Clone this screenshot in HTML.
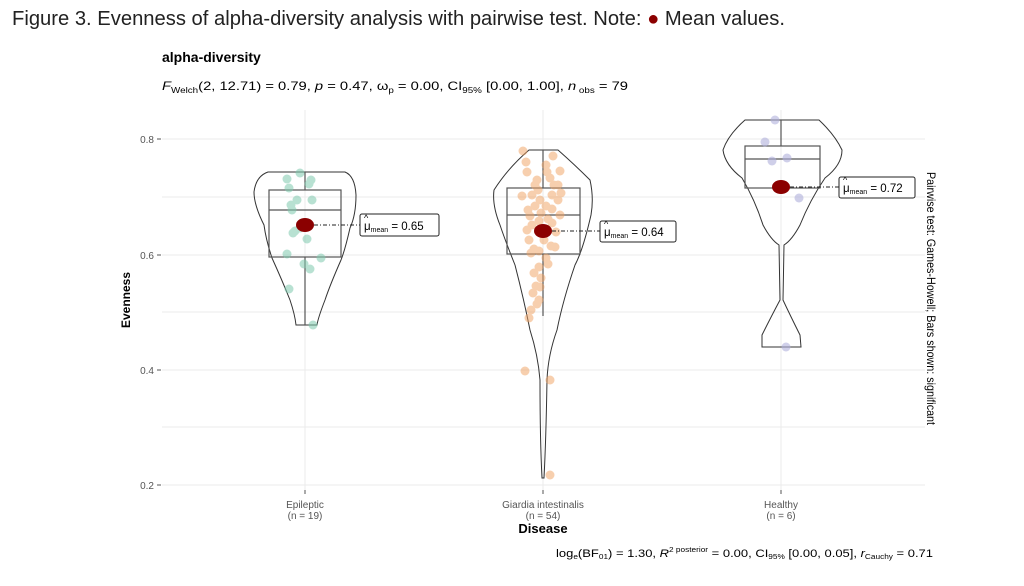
<!DOCTYPE html><html><head><style>body{margin:0;background:#fff;width:1024px;height:586px;overflow:hidden}svg{display:block}</style></head><body>
<svg width="1024" height="586" xmlns="http://www.w3.org/2000/svg" font-family="Liberation Sans, sans-serif">
<text x="12" y="25" font-size="20" fill="#222" textLength="773" lengthAdjust="spacingAndGlyphs">Figure 3. Evenness of alpha-diversity analysis with pairwise test. Note: <tspan fill="#8b0000">●</tspan> Mean values.</text>
<text x="162" y="62" font-size="14" font-weight="bold">alpha-diversity</text>
<text x="162" y="90" font-size="12" textLength="466" lengthAdjust="spacingAndGlyphs"><tspan font-style="italic">F</tspan><tspan font-size="8" dy="3">Welch</tspan><tspan dy="-3">(2, 12.71) = 0.79, </tspan><tspan font-style="italic">p</tspan> = 0.47, ω<tspan font-size="8" dy="3">p</tspan><tspan dy="-3"> = 0.00, CI</tspan><tspan font-size="8" dy="3">95%</tspan><tspan dy="-3"> [0.00, 1.00], </tspan><tspan font-style="italic">n</tspan><tspan font-size="8" dy="3"> obs</tspan><tspan dy="-3"> = 79</tspan></text>
<g stroke="#ebebeb" stroke-width="1">
<line x1="162" x2="925" y1="139" y2="139"/><line x1="162" x2="925" y1="197" y2="197"/><line x1="162" x2="925" y1="255" y2="255"/><line x1="162" x2="925" y1="312" y2="312"/><line x1="162" x2="925" y1="370" y2="370"/><line x1="162" x2="925" y1="427" y2="427"/><line x1="162" x2="925" y1="485" y2="485"/>
<line x1="305" x2="305" y1="110" y2="490"/><line x1="543" x2="543" y1="110" y2="490"/><line x1="781" x2="781" y1="110" y2="490"/>
</g>
<g font-size="10" fill="#555" text-anchor="end"><text x="154" y="143">0.8</text><text x="154" y="259">0.6</text><text x="154" y="374">0.4</text><text x="154" y="489">0.2</text></g>
<g stroke="#555"><line x1="157" x2="161" y1="139" y2="139"/><line x1="157" x2="161" y1="255" y2="255"/><line x1="157" x2="161" y1="370" y2="370"/><line x1="157" x2="161" y1="485" y2="485"/><line x1="305" x2="305" y1="490" y2="494"/><line x1="543" x2="543" y1="490" y2="494"/><line x1="781" x2="781" y1="490" y2="494"/></g>
<text transform="translate(130,300) rotate(-90)" font-size="12" font-weight="bold" text-anchor="middle">Evenness</text>
<g font-size="10" fill="#555" text-anchor="middle"><text x="305" y="508">Epileptic</text><text x="305" y="519">(n = 19)</text><text x="543" y="508">Giardia intestinalis</text><text x="543" y="519">(n = 54)</text><text x="781" y="508">Healthy</text><text x="781" y="519">(n = 6)</text></g>
<text x="543" y="533" font-size="13" font-weight="bold" text-anchor="middle">Disease</text>
<text x="556" y="557" font-size="11" textLength="377" lengthAdjust="spacingAndGlyphs">log<tspan font-size="7" dy="2">e</tspan><tspan dy="-2">(BF</tspan><tspan font-size="7" dy="2">01</tspan><tspan dy="-2">) = 1.30, </tspan><tspan font-style="italic">R</tspan><tspan font-size="7" dy="-5">2 posterior</tspan><tspan dy="5"> = 0.00, CI</tspan><tspan font-size="7" dy="2">95%</tspan><tspan dy="-2"> [0.00, 0.05], </tspan><tspan font-style="italic">r</tspan><tspan font-size="7" dy="2">Cauchy</tspan><tspan dy="-2"> = 0.71</tspan></text>
<text transform="translate(927,172) rotate(90)" font-size="12" textLength="253" lengthAdjust="spacingAndGlyphs">Pairwise test: Games-Howell; Bars shown: significant</text>
<!-- violins -->
<g fill="none" stroke="#333" stroke-width="1">
<path d="M298,172 L345,172 Q355,176 356,195 Q356,215 350,228 Q345,250 341,260 Q330,285 325,300 Q318,318 317,325 L296,325 Q295,315 290,300 Q282,280 272,258 Q266,240 264,225 Q254,205 254,192 Q256,176 268,172 Z"/>
<path d="M529,150 L558,150 Q575,165 590,180 Q594,198 591,215 Q583,250 575,265 Q563,300 557,330 Q548,355 547,380 Q546,440 544,478 L542,478 Q540,440 540,380 Q538,355 530,330 Q524,300 515,265 Q505,240 500,225 Q492,205 494,190 Q508,168 529,150 Z"/>
<path d="M745,120 L819,120 Q835,135 842,150 Q842,165 825,178 Q810,200 800,225 Q792,240 784,245 L783,300 Q790,315 800,335 L801,347 L762,347 L762,335 Q772,315 780,300 L779,245 Q771,240 763,225 Q755,200 742,178 Q725,165 723,150 Q728,135 745,120 Z"/>
</g>
<g fill="none" stroke="#555" stroke-width="1.2">
<rect x="269" y="190" width="72" height="67"/><line x1="269" x2="341" y1="210" y2="210"/><line x1="305" x2="305" y1="172" y2="190"/><line x1="305" x2="305" y1="257" y2="325"/>
<rect x="507" y="188" width="73" height="66"/><line x1="507" x2="580" y1="215" y2="215"/><line x1="543" x2="543" y1="150" y2="188"/><line x1="543" x2="543" y1="254" y2="316"/>
<rect x="745" y="146" width="75" height="42"/><line x1="745" x2="820" y1="159" y2="159"/><line x1="781" x2="781" y1="120" y2="146"/>
</g>
<!-- points -->
<g fill="#7fcaaf" opacity="0.55">
<circle cx="300" cy="173" r="4.5"/><circle cx="287" cy="179" r="4.5"/><circle cx="311" cy="180" r="4.5"/><circle cx="289" cy="188" r="4.5"/><circle cx="309" cy="184" r="4.5"/><circle cx="297" cy="200" r="4.5"/><circle cx="312" cy="200" r="4.5"/><circle cx="291" cy="205" r="4.5"/><circle cx="292" cy="210" r="4.5"/><circle cx="295" cy="231" r="4.5"/><circle cx="293" cy="233" r="4.5"/><circle cx="307" cy="239" r="4.5"/><circle cx="287" cy="254" r="4.5"/><circle cx="321" cy="258" r="4.5"/><circle cx="304" cy="264" r="4.5"/><circle cx="310" cy="269" r="4.5"/><circle cx="289" cy="289" r="4.5"/><circle cx="313" cy="325" r="4.5"/><circle cx="300" cy="228" r="4.5"/>
</g>
<g fill="#f0a060" opacity="0.5">
<circle cx="523" cy="151" r="4.5"/><circle cx="526" cy="162" r="4.5"/><circle cx="553" cy="156" r="4.5"/><circle cx="527" cy="172" r="4.5"/><circle cx="560" cy="171" r="4.5"/><circle cx="547" cy="172" r="4.5"/><circle cx="550" cy="178" r="4.5"/><circle cx="537" cy="180" r="4.5"/><circle cx="554" cy="185" r="4.5"/><circle cx="538" cy="190" r="4.5"/><circle cx="558" cy="185" r="4.5"/><circle cx="561" cy="193" r="4.5"/><circle cx="552" cy="195" r="4.5"/><circle cx="532" cy="195" r="4.5"/><circle cx="540" cy="200" r="4.5"/><circle cx="558" cy="200" r="4.5"/><circle cx="522" cy="196" r="4.5"/><circle cx="546" cy="206" r="4.5"/><circle cx="535" cy="206" r="4.5"/><circle cx="541" cy="213" r="4.5"/><circle cx="528" cy="210" r="4.5"/><circle cx="530" cy="216" r="4.5"/><circle cx="548" cy="219" r="4.5"/><circle cx="539" cy="221" r="4.5"/><circle cx="552" cy="223" r="4.5"/><circle cx="532" cy="225" r="4.5"/><circle cx="551" cy="246" r="4.5"/><circle cx="555" cy="247" r="4.5"/><circle cx="534" cy="249" r="4.5"/><circle cx="531" cy="253" r="4.5"/><circle cx="539" cy="251" r="4.5"/><circle cx="548" cy="264" r="4.5"/><circle cx="539" cy="267" r="4.5"/><circle cx="534" cy="273" r="4.5"/><circle cx="536" cy="286" r="4.5"/><circle cx="540" cy="287" r="4.5"/><circle cx="533" cy="293" r="4.5"/><circle cx="539" cy="300" r="4.5"/><circle cx="537" cy="304" r="4.5"/><circle cx="531" cy="310" r="4.5"/><circle cx="529" cy="318" r="4.5"/><circle cx="525" cy="371" r="4.5"/><circle cx="550" cy="380" r="4.5"/><circle cx="550" cy="475" r="4.5"/><circle cx="544" cy="240" r="4.5"/><circle cx="529" cy="240" r="4.5"/><circle cx="556" cy="232" r="4.5"/><circle cx="546" cy="165" r="4.5"/><circle cx="535" cy="185" r="4.5"/><circle cx="560" cy="215" r="4.5"/><circle cx="527" cy="230" r="4.5"/><circle cx="546" cy="258" r="4.5"/><circle cx="541" cy="278" r="4.5"/><circle cx="552" cy="209" r="4.5"/>
</g>
<g fill="#b0b0dc" opacity="0.6">
<circle cx="775" cy="120" r="4.5"/><circle cx="765" cy="142" r="4.5"/><circle cx="772" cy="161" r="4.5"/><circle cx="787" cy="158" r="4.5"/><circle cx="799" cy="198" r="4.5"/><circle cx="786" cy="347" r="4.5"/>
</g>
<!-- means -->
<g fill="#8b0000"><ellipse cx="305" cy="225" rx="9" ry="7"/><ellipse cx="543" cy="231" rx="9" ry="7"/><ellipse cx="781" cy="187" rx="9" ry="7"/></g>
<g stroke="#222" stroke-dasharray="4,2,1,2" stroke-width="1"><line x1="314" x2="360" y1="225" y2="225"/><line x1="552" x2="600" y1="231" y2="231"/><line x1="790" x2="840" y1="187" y2="187"/></g>
<g fill="#fff" stroke="#222" stroke-width="1"><rect x="360" y="214" width="79" height="22" rx="2"/><rect x="600" y="221" width="76" height="21" rx="2"/><rect x="839" y="177" width="76" height="21" rx="2"/></g>
<g font-size="11.5"><text x="364" y="230">μ<tspan font-size="7" dy="2">mean</tspan><tspan dy="-2"> = 0.65</tspan></text><text x="604" y="236">μ<tspan font-size="7" dy="2">mean</tspan><tspan dy="-2"> = 0.64</tspan></text><text x="843" y="192">μ<tspan font-size="7" dy="2">mean</tspan><tspan dy="-2"> = 0.72</tspan></text></g>
<g font-size="9"><text x="364" y="221">^</text><text x="604" y="227">^</text><text x="843" y="183">^</text></g>
</svg>
</body></html>
